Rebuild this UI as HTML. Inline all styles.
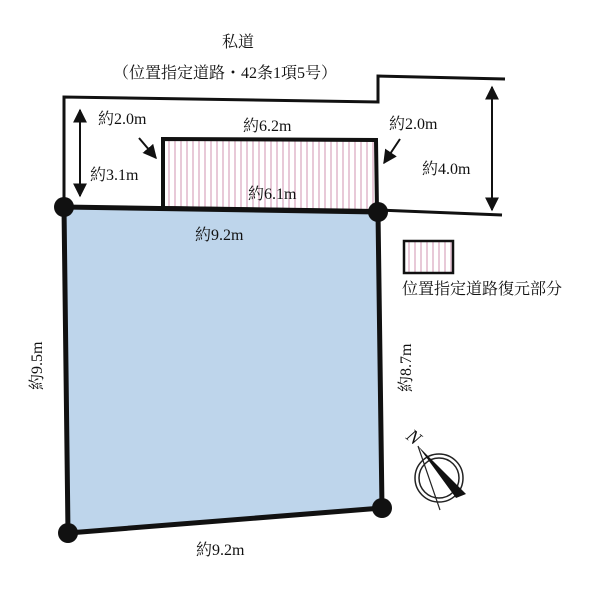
<!DOCTYPE html>
<html><head><meta charset="utf-8"><style>
body{margin:0;background:#fff}
svg text{font-family:"Liberation Serif","Noto Serif CJK SC",serif;fill:#111}
</style></head><body>
<svg width="600" height="600" viewBox="0 0 600 600" xmlns="http://www.w3.org/2000/svg">
<defs>
<pattern id="h" width="6" height="10" patternUnits="userSpaceOnUse">
<rect width="6" height="10" fill="#fff"/><rect x="0" width="2" height="10" fill="#e8c9d8"/>
</pattern>
<marker id="a" viewBox="0 0 10 10" refX="9" refY="5" markerWidth="7" markerHeight="7" orient="auto-start-reverse"><path d="M0,0L10,5L0,10z" fill="#111"/></marker>
</defs>
<text x="222" y="47" font-size="16">私道</text>
<text x="113" y="78" font-size="16">（位置指定道路・42条1項5号）</text>
<polyline points="64,207 64,97 378,102 378,76 505,79" fill="none" stroke="#111" stroke-width="3"/>
<line x1="378" y1="210" x2="502" y2="215" stroke="#111" stroke-width="3"/>
<polygon points="163,139 376,140 377,211 163,208" fill="url(#h)" stroke="#111" stroke-width="4"/>
<polygon points="64,207 378,212 382,508 68,533" fill="#bed5eb" stroke="#111" stroke-width="5"/>
<circle cx="64" cy="207" r="10" fill="#111"/>
<circle cx="378" cy="212" r="10" fill="#111"/>
<circle cx="382" cy="508" r="10" fill="#111"/>
<circle cx="68" cy="533" r="10" fill="#111"/>
<line x1="80" y1="110" x2="80" y2="196" stroke="#111" stroke-width="2" marker-start="url(#a)" marker-end="url(#a)"/>
<line x1="492" y1="87" x2="492" y2="210" stroke="#111" stroke-width="2" marker-start="url(#a)" marker-end="url(#a)"/>
<line x1="139" y1="138" x2="156" y2="158" stroke="#111" stroke-width="2" marker-end="url(#a)"/>
<line x1="400" y1="139" x2="384" y2="163" stroke="#111" stroke-width="2" marker-end="url(#a)"/>
<text x="98" y="124" font-size="16">約2.0m</text>
<text x="243" y="131" font-size="16">約6.2m</text>
<text x="389" y="129" font-size="16">約2.0m</text>
<text x="90" y="180" font-size="16">約3.1m</text>
<text x="248" y="199" font-size="16">約6.1m</text>
<text x="422" y="174" font-size="16">約4.0m</text>
<text x="195" y="240" font-size="16">約9.2m</text>
<text x="196" y="555" font-size="16">約9.2m</text>
<text font-size="16" transform="translate(42,390) rotate(-90)">約9.5m</text>
<text font-size="16" transform="translate(411,392) rotate(-90)">約8.7m</text>
<rect x="404" y="241" width="49" height="32" fill="url(#h)" stroke="#111" stroke-width="2.5"/>
<text x="402" y="294" font-size="16">位置指定道路復元部分</text>
<circle cx="439" cy="478" r="24" fill="none" stroke="#222" stroke-width="1.5"/>
<circle cx="439" cy="478" r="20" fill="none" stroke="#222" stroke-width="1.5"/>
<polygon points="418,446 466,494 456,498" fill="#111"/>
<line x1="418" y1="446" x2="440" y2="510" stroke="#222" stroke-width="1.2"/>
<text font-size="19" font-style="italic" transform="translate(405,438) rotate(38)">N</text>
</svg>
</body></html>
